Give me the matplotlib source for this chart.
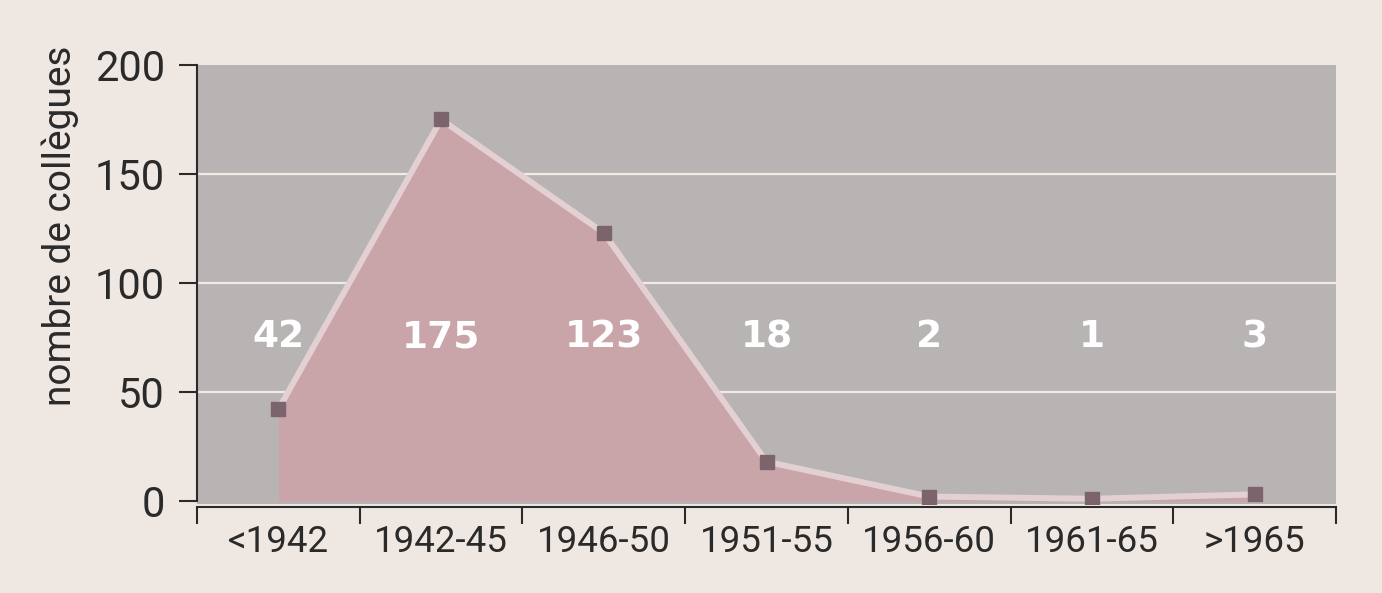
import matplotlib
matplotlib.use("Agg")
import matplotlib.pyplot as plt
import numpy as np

categories = ["<1942", "1942-45", "1946-50", "1951-55", "1956-60", "1961-65", ">1965"]
counts = [42, 175, 123, 18, 2, 1, 3]
yticks = [0, 50, 100, 150, 200]
ylabel = "nombre de collègues"

fig_bg = "#efe8e2"
ax_bg = "#b9b4b4"
fill_c = "#c9a4a9"
line_c = "#e3d0d3"
mark_c = "#7b646b"
grid_c = "#f1ebe3"
dark = "#2a2a2a"

fig = plt.figure(figsize=(13.82, 5.93), dpi=100, facecolor=fig_bg)
ax = fig.add_axes([197/1382, 1 - 504/593, (1336-197)/1382, (504-65)/593])
ax.set_facecolor(ax_bg)

x = np.arange(len(categories))
ax.set_xlim(-0.5, len(categories) - 0.5)
ax.set_ylim(-1.4, 200)

for v in yticks[1:-1]:
    ax.axhline(v, color=grid_c, lw=1.6, zorder=1)

ax.fill_between(x, 0, counts, color=fill_c, lw=0, zorder=2)
ax.plot(x, counts, color=line_c, lw=4.3, solid_joinstyle="miter", zorder=3)
ax.plot(x, counts, ls="none", marker="s", ms=10.5, color=mark_c, mec=mark_c, zorder=4)

for xi, c in zip(x, counts):
    ax.text(xi, 75, str(c), ha="center", va="center", color="white",
            fontsize=27, fontweight="bold", family="DejaVu Sans", zorder=5)

# spines
for s in ["top", "right"]:
    ax.spines[s].set_visible(False)
ax.spines["left"].set_color(dark)
ax.spines["left"].set_linewidth(1.5)
ax.spines["left"].set_bounds(0, 200)
ax.spines["bottom"].set_color(dark)
ax.spines["bottom"].set_linewidth(1.5)
ax.spines["bottom"].set_position(("outward", 2.5))

ax.set_yticks(yticks)
ax.set_yticklabels([str(v) for v in yticks], family="Roboto", fontsize=30, color=dark)
ax.tick_params(axis="y", length=13, width=1.5, color=dark, pad=10)

ax.set_xticks(np.arange(-0.5, len(categories)), minor=False)
ax.set_xticklabels([])
ax.set_xticks(x, minor=True)
ax.set_xticklabels(categories, minor=True, family="Roboto", fontsize=26.5, color=dark)
ax.tick_params(axis="x", which="major", length=12, width=1.5, color=dark)
ax.tick_params(axis="x", which="minor", length=0, pad=12)

fig.text(60/1382, 1 - 226/593, ylabel, rotation=90, ha="center", va="center",
         family="Roboto", fontsize=28, color=dark)

fig.savefig("out.png", dpi=100, facecolor=fig_bg)
